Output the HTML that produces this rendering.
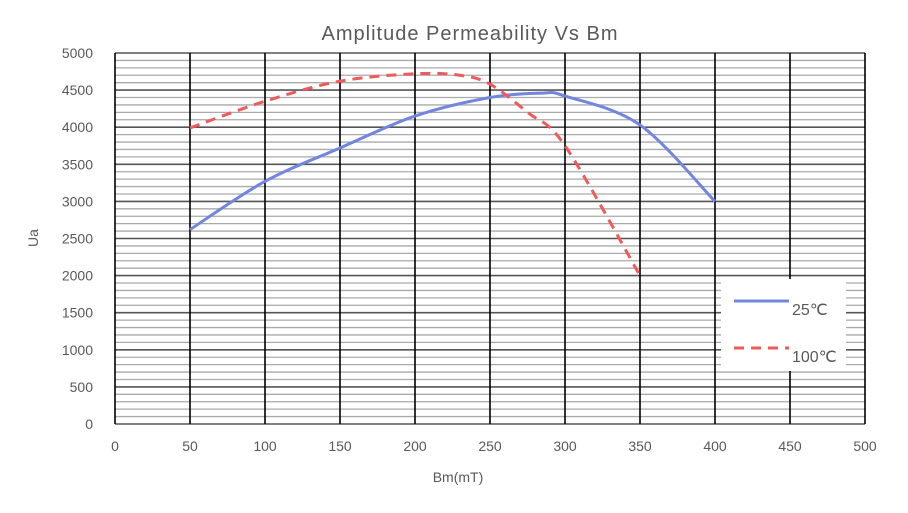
<!DOCTYPE html>
<html><head><meta charset="utf-8"><style>
body{margin:0;background:#fff;width:908px;height:508px;overflow:hidden}
text{font-family:"Liberation Sans",sans-serif;fill:#595959}
</style></head><body>
<svg id="chart" width="908" height="508" xmlns="http://www.w3.org/2000/svg">
<text x="470" y="40" font-size="20" text-anchor="middle" letter-spacing="1">Amplitude Permeability Vs Bm</text>
<g id="grid"></g>
<g id="series"></g>
<g id="axes"></g>
<text x="458" y="482" font-size="14" text-anchor="middle">Bm(mT)</text>
<text transform="translate(38,238) rotate(-90)" font-size="14" text-anchor="middle">Ua</text>
<g>
<rect x="721" y="279" width="125" height="92" fill="#fff"/>
<g>
<line x1="734" y1="301" x2="789" y2="301" stroke="#7286E0" stroke-width="3"/>
<text x="792" y="315" font-size="16">25℃</text></g>
<g>
<line x1="734" y1="348" x2="789" y2="348" stroke="#F05A5A" stroke-width="3" stroke-dasharray="10,7"/>
<text x="792" y="362" font-size="16">100℃</text></g>
</g>
</svg>
<script>
const xTicks=[0,50,100,150,200,250,300,350,400,450,500];
const yTicks=[0,500,1000,1500,2000,2500,3000,3500,4000,4500,5000];
const bm25=[50,100,150,200,250,285,300,350,400];
const ua25=[2620,3270,3720,4150,4400,4460,4420,4030,3000];
const bm100=[50,100,150,200,230,250,275,300,350];
const ua100=[3990,4350,4620,4720,4700,4580,4200,3750,2000];
const X0=115,X1=865,Y0=424,Y1=53;
const sx=v=>X0+(v/500)*(X1-X0);
const sy=v=>Y0-(v/5000)*(Y0-Y1);
const NS="http://www.w3.org/2000/svg";
const grid=document.getElementById('grid'),axes=document.getElementById('axes'),ser=document.getElementById('series');
function ln(p,x1,y1,x2,y2,c,w){const l=document.createElementNS(NS,'line');l.setAttribute('x1',x1);l.setAttribute('y1',y1);l.setAttribute('x2',x2);l.setAttribute('y2',y2);l.setAttribute('stroke',c);l.setAttribute('stroke-width',w);p.appendChild(l);return l;}
for(let v=100;v<5000;v+=100){if(v%500===0)continue;const l=ln(grid,X0,sy(v),X1,sy(v),'#aaaaaa',1.3);

}
yTicks.forEach(v=>{const l=ln(grid,X0,sy(v),X1,sy(v),'#555',1.6);


const t=document.createElementNS(NS,'text');t.setAttribute('x',93);t.setAttribute('y',sy(v)+5);t.setAttribute('font-size','14');t.setAttribute('text-anchor','end');t.textContent=v;


axes.appendChild(t);});
xTicks.forEach(v=>{const l=ln(grid,sx(v),Y1,sx(v),Y0,'#000',1.6);


const t=document.createElementNS(NS,'text');t.setAttribute('x',sx(v));t.setAttribute('y',451);t.setAttribute('font-size','14');t.setAttribute('text-anchor','middle');t.textContent=v;


axes.appendChild(t);});
function smooth(xs,ys){const p=xs.map((x,i)=>[sx(x),sy(ys[i])]);let d='M'+p[0][0]+','+p[0][1];
for(let i=0;i<p.length-1;i++){const a=p[i-1]||p[i],b=p[i],c=p[i+1],e=p[i+2]||c;
const c1=[b[0]+(c[0]-a[0])/6,b[1]+(c[1]-a[1])/6],c2=[c[0]-(e[0]-b[0])/6,c[1]-(e[1]-b[1])/6];
d+=' C'+c1+' '+c2+' '+c;}return d;}
function path(xs,ys,col,dash,name){const p=document.createElementNS(NS,'path');p.setAttribute('d',smooth(xs,ys));p.setAttribute('fill','none');p.setAttribute('stroke',col);p.setAttribute('stroke-width','3');if(dash)p.setAttribute('stroke-dasharray',dash);


ser.appendChild(p);}
path(bm25,ua25,'#7286E0',null,'line-25c');
path(bm100,ua100,'#F05A5A','10,7','line-100c');
</script>
</body></html>
